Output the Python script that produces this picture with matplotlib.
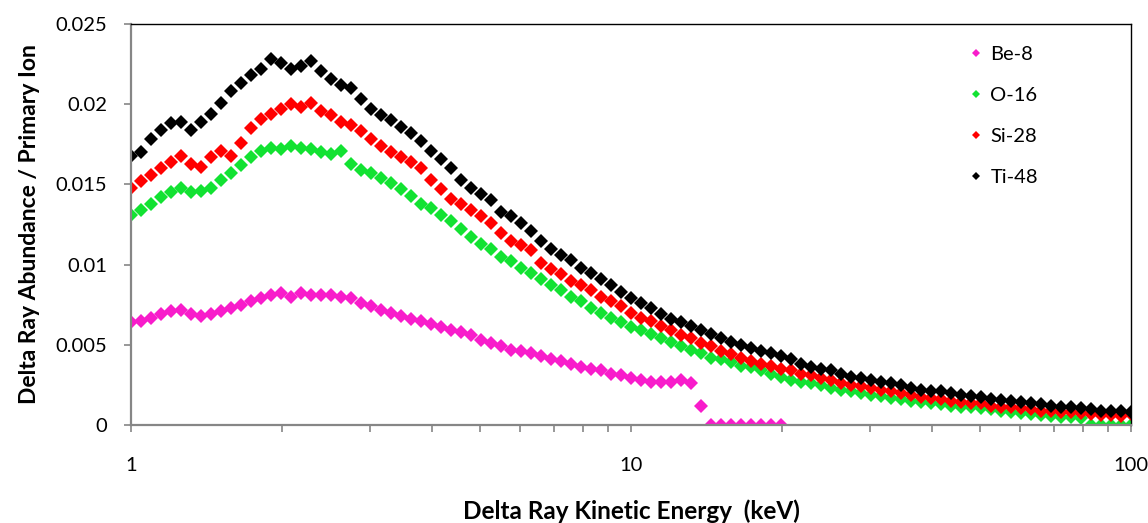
import matplotlib
matplotlib.use("Agg")
import matplotlib.pyplot as plt
from matplotlib.ticker import FixedLocator, LogLocator, NullFormatter

plt.rcParams['font.family'] = ['Lato', 'DejaVu Sans']

# delta ray kinetic energy bins (keV), shared by every ion
energy = [1.000, 1.047, 1.096, 1.148, 1.202, 1.259, 1.318, 1.380, 1.445, 1.514,
          1.585, 1.660, 1.738, 1.820, 1.905, 1.995, 2.089, 2.188, 2.291, 2.399,
          2.512, 2.630, 2.754, 2.884, 3.020, 3.162, 3.311, 3.467, 3.631, 3.802,
          3.981, 4.169, 4.365, 4.571, 4.786, 5.012, 5.248, 5.495, 5.754, 6.026,
          6.310, 6.607, 6.918, 7.244, 7.586, 7.943, 8.318, 8.710, 9.120, 9.550,
          10.00, 10.47, 10.96, 11.48, 12.02, 12.59, 13.18, 13.80, 14.45, 15.14,
          15.85, 16.60, 17.38, 18.20, 19.05, 19.95, 20.89, 21.88, 22.91, 23.99,
          25.12, 26.30, 27.54, 28.84, 30.20, 31.62, 33.11, 34.67, 36.31, 38.02,
          39.81, 41.69, 43.65, 45.71, 47.86, 50.12, 52.48, 54.95, 57.54, 60.26,
          63.10, 66.07, 69.18, 72.44, 75.86, 79.43, 83.18, 87.10, 91.20, 95.50,
          100.0]

# Be-8 only tallied up to ~20 keV
be8 = [0.0064, 0.0065, 0.0067, 0.0069, 0.0071, 0.0072, 0.0069, 0.0068, 0.0069, 0.0071,
       0.0073, 0.0075, 0.0077, 0.0079, 0.0081, 0.0082, 0.0080, 0.0082, 0.0081, 0.0081,
       0.0081, 0.0080, 0.0079, 0.0076, 0.0074, 0.0072, 0.0070, 0.0068, 0.0066, 0.0065,
       0.0063, 0.0061, 0.0059, 0.0058, 0.0056, 0.0053, 0.0051, 0.0049, 0.0047, 0.0046,
       0.0045, 0.0043, 0.0041, 0.0040, 0.0038, 0.0036, 0.0035, 0.0034, 0.0032, 0.0031,
       0.0029, 0.0028, 0.0027, 0.0027, 0.0027, 0.0028, 0.0026, 0.0012, 0.0, 0.0,
       0.0, 0.0, 0.0, 0.0, 0.0, 0.0]

o16 = [0.0131, 0.0134, 0.0138, 0.0142, 0.0145, 0.0148, 0.0145, 0.0146, 0.0148, 0.0153,
       0.0157, 0.0162, 0.0167, 0.0171, 0.0173, 0.0172, 0.0174, 0.0173, 0.0172, 0.0170,
       0.0169, 0.0171, 0.0163, 0.0159, 0.0157, 0.0154, 0.0151, 0.0147, 0.0143, 0.0138,
       0.0135, 0.0131, 0.0127, 0.0122, 0.0117, 0.0113, 0.0110, 0.0105, 0.0102, 0.0098,
       0.0095, 0.0091, 0.0087, 0.0084, 0.0080, 0.0077, 0.0073, 0.0070, 0.0067, 0.0064,
       0.0061, 0.0059, 0.0057, 0.0054, 0.0052, 0.0049, 0.0047, 0.0045, 0.0042, 0.0041,
       0.0039, 0.0037, 0.0036, 0.0034, 0.0032, 0.0030, 0.0028, 0.0027, 0.0026, 0.0025,
       0.0023, 0.0022, 0.0021, 0.0020, 0.0019, 0.0018, 0.0017, 0.0016, 0.0015, 0.00145,
       0.0014, 0.0013, 0.0012, 0.0011, 0.0011, 0.00105, 0.0010, 0.0009, 0.0008, 0.00075,
       0.0007, 0.0006, 0.00055, 0.0005, 0.00047, 0.00044, 0.0, 0.0, 0.0, 0.0,
       0.0]

si28 = [0.0148, 0.0152, 0.0156, 0.0160, 0.0164, 0.0168, 0.0163, 0.0161, 0.0167, 0.0171,
        0.0168, 0.0176, 0.0185, 0.0191, 0.0194, 0.0197, 0.0200, 0.0198, 0.0201, 0.0196,
        0.0193, 0.0189, 0.0187, 0.0183, 0.0178, 0.0174, 0.0170, 0.0167, 0.0164, 0.0160,
        0.0153, 0.0147, 0.0141, 0.0138, 0.0134, 0.0130, 0.0126, 0.0120, 0.0115, 0.0112,
        0.0109, 0.0101, 0.0097, 0.0094, 0.0090, 0.0087, 0.0084, 0.0080, 0.0077, 0.0074,
        0.0070, 0.0067, 0.0065, 0.0062, 0.0059, 0.0056, 0.0054, 0.0051, 0.0049, 0.0046,
        0.0044, 0.0042, 0.0040, 0.0038, 0.0037, 0.0035, 0.0034, 0.0032, 0.0031, 0.0029,
        0.0028, 0.0026, 0.0025, 0.0024, 0.0023, 0.0022, 0.0021, 0.0020, 0.0019, 0.00175,
        0.0017, 0.0016, 0.0015, 0.00143, 0.0014, 0.0014, 0.0012, 0.0011, 0.0011, 0.00105,
        0.0010, 0.0009, 0.0009, 0.0008, 0.0008, 0.00075, 0.0007, 0.0006, 0.0006, 0.00056,
        0.0007]

ti48 = [0.0168, 0.0170, 0.0178, 0.0184, 0.0188, 0.0189, 0.0184, 0.0189, 0.0194, 0.0201,
        0.0208, 0.0213, 0.0218, 0.0222, 0.0228, 0.0226, 0.0222, 0.0224, 0.0227, 0.0221,
        0.0216, 0.0212, 0.0210, 0.0203, 0.0197, 0.0193, 0.0190, 0.0186, 0.0182, 0.0177,
        0.0171, 0.0166, 0.0160, 0.0153, 0.0148, 0.0144, 0.0140, 0.0133, 0.0130, 0.0126,
        0.0121, 0.0115, 0.0110, 0.0106, 0.0103, 0.0098, 0.0095, 0.0091, 0.0087, 0.0083,
        0.0079, 0.0076, 0.0073, 0.0069, 0.0066, 0.0064, 0.0062, 0.0059, 0.0057, 0.0054,
        0.0052, 0.0050, 0.0048, 0.0046, 0.0045, 0.0043, 0.0041, 0.0038, 0.0036, 0.0035,
        0.0034, 0.0032, 0.0030, 0.0029, 0.0028, 0.0027, 0.0026, 0.0025, 0.0023, 0.0022,
        0.0021, 0.0021, 0.0020, 0.0019, 0.0018, 0.00175, 0.0016, 0.00156, 0.0015, 0.00143,
        0.0014, 0.0013, 0.0012, 0.0011, 0.0011, 0.00105, 0.0010, 0.0009, 0.0009, 0.00087,
        0.0008]

ions = ['Be-8', 'O-16', 'Si-28', 'Ti-48']
colors = ['#F81CCB', '#12E232', '#FF0000', '#000000']
yticks = [0, 0.005, 0.01, 0.015, 0.02, 0.025]
ytick_labels = ['0', '0.005', '0.01', '0.015', '0.02', '0.025']

fig = plt.figure(figsize=(11.48, 5.23), dpi=100)
ax = fig.add_axes([0.1141, 0.1874, 0.8711, 0.7667])

series = [be8, o16, si28, ti48]
for name, vals, c in zip(ions, series, colors):
    ax.plot(energy[:len(vals)], vals, linestyle='none', marker='D',
            markersize=7.6, color=c, markeredgewidth=0, label=name)

ax.set_xscale('log')
ax.set_xlim(1, 100)
ax.set_ylim(0, 0.025)
ax.xaxis.set_major_locator(FixedLocator([1, 10, 100]))
ax.xaxis.set_minor_locator(LogLocator(base=10, subs=range(2, 10)))
ax.xaxis.set_minor_formatter(NullFormatter())
ax.set_xticklabels(['1', '10', '100'])
ax.set_yticks(yticks)
ax.set_yticklabels(ytick_labels)

axis_grey = '#868686'
for side in ['left', 'bottom']:
    ax.spines[side].set_color(axis_grey)
    ax.spines[side].set_linewidth(1.6)
for side in ['top', 'right']:
    ax.spines[side].set_color('#000000')
    ax.spines[side].set_linewidth(1.0)

ax.tick_params(axis='both', which='both', direction='out', length=5,
               width=1.2, color=axis_grey, labelsize=14.5)
ax.tick_params(axis='x', which='both', pad=18)
ax.tick_params(axis='y', pad=12)

ax.set_xlabel('Delta Ray Kinetic Energy  (keV)', fontsize=17.5, fontweight='bold',
              labelpad=18)
ax.set_ylabel('Delta Ray Abundance / Primary Ion', fontsize=16.5, fontweight='bold',
              labelpad=11)

ax.legend(loc='upper left', bbox_to_anchor=(0.822, 0.99), frameon=False,
          fontsize=14.5, markerscale=0.6, handlelength=0.5, handletextpad=0.45,
          labelspacing=1.18)

fig.savefig('out.png', dpi=100)
